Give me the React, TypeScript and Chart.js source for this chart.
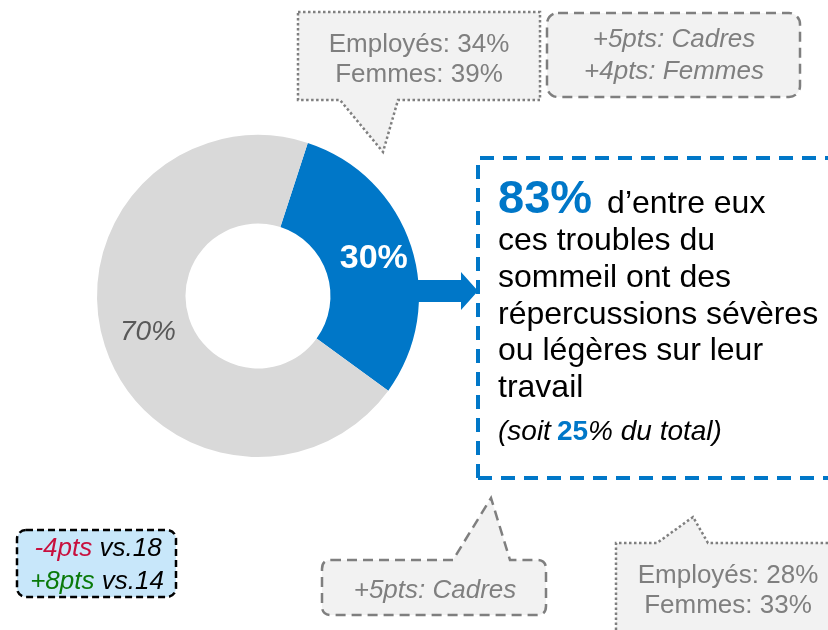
import React, { useEffect, useRef } from "react";
import { Chart, registerables } from "chart.js";

Chart.register(...registerables);

const categories = ["Oui", "Non"];
const values = [30, 70];
const valueLabels = ["30%", "70%"];
const sliceColors = ["#0077c8", "#d9d9d9"];

const mainHeadline = "83%";
const mainLines = ["ces troubles du", "sommeil ont des", "répercussions sévères", "ou légères sur leur", "travail"];
const callTopLeft = ["Employés: 34%", "Femmes: 39%"];
const callTopRight = ["+5pts: Cadres", "+4pts: Femmes"];
const callBottom = ["+5pts: Cadres"];
const callBottomRight = ["Employés: 28%", "Femmes: 33%"];

const FONT = '"Liberation Sans", Arial, sans-serif';

const labelPlugin = {
  id: "sliceLabels",
  afterDatasetsDraw(chart: any) {
    const ctx = chart.ctx;
    const meta = chart.getDatasetMeta(0);
    const styles = [
      { font: `bold 34px ${FONT}`, color: "#ffffff", dr: 5 },
      { font: `italic 28px ${FONT}`, color: "#595959", dr: -1 },
    ];
    meta.data.forEach((arc: any, i: number) => {
      const p = arc.getProps(["x", "y", "startAngle", "endAngle", "innerRadius", "outerRadius"], true);
      const a = (p.startAngle + p.endAngle) / 2;
      const r = (p.innerRadius + p.outerRadius) / 2 + styles[i].dr;
      const x = p.x + Math.cos(a) * r;
      const y = p.y + Math.sin(a) * r;
      ctx.save();
      ctx.font = styles[i].font;
      ctx.fillStyle = styles[i].color;
      ctx.textAlign = "center";
      ctx.textBaseline = "middle";
      ctx.fillText(valueLabels[i], x, y);
      ctx.restore();
    });
  },
};

export default function App() {
  const ref = useRef<HTMLCanvasElement>(null);
  useEffect(() => {
    document.body.style.margin = "0";
    const chart = new Chart(ref.current as HTMLCanvasElement, {
      type: "doughnut",
      data: {
        labels: categories,
        datasets: [{ data: values, backgroundColor: sliceColors, borderWidth: 0 }],
      },
      options: {
        animation: false,
        responsive: false,
        maintainAspectRatio: false,
        cutout: "45%",
        rotation: 18,
        layout: { padding: { left: 97, top: 135, right: 409, bottom: 173 } },
        plugins: { legend: { display: false }, tooltip: { enabled: false } },
      },
      plugins: [labelPlugin],
    });
    return () => chart.destroy();
  }, []);

  const gray = "#7f7f7f";
  return (
    <div style={{ position: "relative", width: 828, height: 630, overflow: "hidden", background: "#fff" }}>
      <canvas ref={ref} width={828} height={630} style={{ position: "absolute", left: 0, top: 0 }} />
      <svg width={828} height={630} style={{ position: "absolute", left: 0, top: 0 }} fontFamily={FONT}>
        {/* arrow */}
        <path d="M405,280 H461 V272 L478,291 L461,310 V302 H405 Z" fill="#0077c8" />
        {/* main dashed box */}
        <path d="M478,478 V158 H840 M478,478 H840" fill="none" stroke="#0077c8" strokeWidth={4} strokeDasharray="14 9" />
        <text x={498} y={213}>
          <tspan fontWeight="bold" fontSize={47} fill="#0077c8">{mainHeadline}</tspan>
          <tspan fontSize={32} fill="#000" dx={15}>d’entre eux</tspan>
        </text>
        {mainLines.map((l, i) => (
          <text key={i} x={498} y={250 + i * 36.8} fontSize={32} fill="#000">{l}</text>
        ))}
        <text x={498} y={440} fontSize={28} fill="#000">
          <tspan fontStyle="italic">(soit</tspan>
          <tspan fontWeight="bold" fill="#0077c8" dx={6}>25</tspan>
          <tspan fontStyle="italic">% du total)</tspan>
        </text>

        {/* top-left dotted callout */}
        <path d="M298,12 H540 V100 H398 L383,152 L340,100 H298 Z" fill="#f2f2f2" stroke={gray} strokeWidth={2.5} strokeDasharray="2.5 2.5" />
        {callTopLeft.map((l, i) => (
          <text key={i} x={419} y={52 + i * 30} fontSize={26} fill={gray} textAnchor="middle">{l}</text>
        ))}

        {/* top-right dashed callout */}
        <rect x={547} y={13} width={253} height={84} rx={11} fill="#f2f2f2" stroke={gray} strokeWidth={2.5} strokeDasharray="10 6" />
        {callTopRight.map((l, i) => (
          <text key={i} x={674} y={47 + i * 32} fontSize={26} fill={gray} textAnchor="middle" fontStyle="italic">{l}</text>
        ))}

        {/* bottom-left box */}
        <rect x={17} y={530} width={159} height={67} rx={9} fill="#c8e7fa" stroke="#000" strokeWidth={2.5} strokeDasharray="7 4" />
        <text x={98} y={556} fontSize={26} fontStyle="italic" textAnchor="middle">
          <tspan fill="#c8103e">-4pts</tspan>
          <tspan fill="#000"> vs.18</tspan>
        </text>
        <text x={97} y={589} fontSize={26} fontStyle="italic" textAnchor="middle">
          <tspan fill="#0a7a0a">+8pts</tspan>
          <tspan fill="#000"> vs.14</tspan>
        </text>

        {/* bottom dashed callout */}
        <path d="M331,560 H453 L491,498 L510,560 H537 Q546,560 546,569 V606 Q546,615 537,615 H331 Q322,615 322,606 V569 Q322,560 331,560 Z" fill="#f2f2f2" stroke={gray} strokeWidth={2.5} strokeDasharray="10 6" />
        {callBottom.map((l, i) => (
          <text key={i} x={435} y={598} fontSize={26} fill={gray} textAnchor="middle" fontStyle="italic">{l}</text>
        ))}

        {/* bottom-right dotted callout */}
        <path d="M616,640 V543 H657 L693,517 L708,543 H840 V640 Z" fill="#f2f2f2" stroke={gray} strokeWidth={2.5} strokeDasharray="2.5 2.5" />
        {callBottomRight.map((l, i) => (
          <text key={i} x={728} y={583 + i * 30} fontSize={26} fill={gray} textAnchor="middle">{l}</text>
        ))}
      </svg>
    </div>
  );
}
